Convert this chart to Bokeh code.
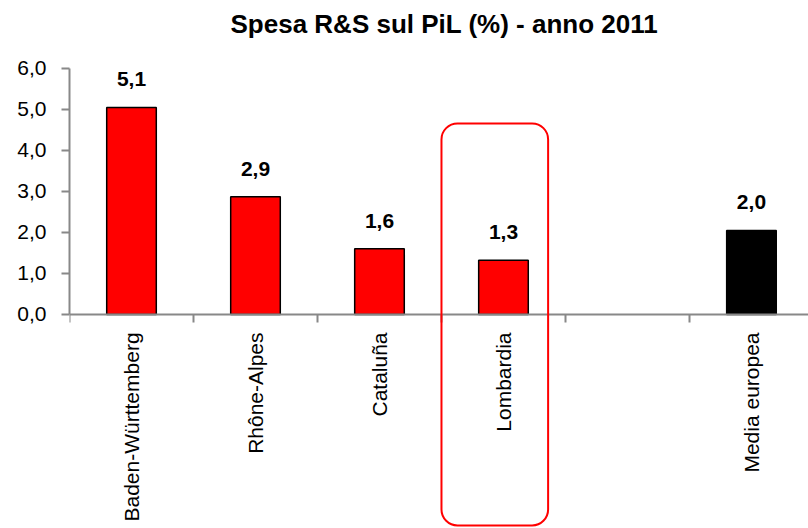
import math
from bokeh.plotting import figure
from bokeh.models import Range1d, FixedTicker, ColumnDataSource, BoxAnnotation, Title
from bokeh.core.properties import value
from bokeh.embed import file_html
from bokeh.resources import INLINE

# ---- data ----
categories = ["Baden-Württemberg", "Rhône-Alpes", "Cataluña", "Lombardia", "", "Media europea"]
values = [5.05, 2.87, 1.60, 1.32, None, 2.05]
value_labels = ["5,1", "2,9", "1,6", "1,3", "", "2,0"]
bar_colors = ["#FF0000", "#FF0000", "#FF0000", "#FF0000", None, "#000000"]
y_ticks = [0, 1, 2, 3, 4, 5, 6]
y_tick_labels = ["0,0", "1,0", "2,0", "3,0", "4,0", "5,0", "6,0"]
chart_title = "Spesa R&S sul PiL (%) - anno 2011"
highlight = "Lombardia"

FONT = "Liberation Sans"
AXIS_GRAY = "#888888"

idx = [i for i, v in enumerate(values) if v is not None]
src = ColumnDataSource(dict(
    x=[i + 0.5 for i in idx],
    top=[values[i] for i in idx],
    color=[bar_colors[i] for i in idx],
    label=[value_labels[i] for i in idx],
))

# frame reaches the bottom of the canvas so the highlight box can extend below the axis;
# the category axis is pinned at y = 0, the value axis is bounded to 0..6
p = figure(width=808, height=528, output_backend="svg", toolbar_location=None,
           x_range=Range1d(0, 5.96), y_range=Range1d(-5.221, 6.487),
           min_border_left=69, min_border_right=0, min_border_top=47, min_border_bottom=0)
p.title = None
p.add_layout(Title(text=chart_title, align="left", text_font=FONT, text_font_size="26px",
                   text_font_style="bold", text_color="#000000", offset=161, standoff=16,
                   vertical_align="top"), "above")

p.outline_line_color = None
p.xgrid.visible = False
p.ygrid.visible = False
p.background_fill_color = "white"
p.border_fill_color = "white"

p.vbar(x="x", top="top", bottom=0, width=0.4, source=src, fill_color="color",
       line_color="#000000", line_width=1.5)
p.text(x="x", y="top", text="label", source=src, text_align="center",
       text_baseline="alphabetic", y_offset=-28, text_font=value(FONT),
       text_font_size="21px", text_font_style="bold", text_color="#000000")

# x axis: labels at category centres, tick marks at boundaries
xa = p.xaxis[0]
xa.fixed_location = 0
xa.ticker = FixedTicker(ticks=[i + 0.5 for i in range(len(categories))],
                        minor_ticks=list(range(len(categories) + 1)))
xa.major_label_overrides = {i + 0.5: (c if c else " ") for i, c in enumerate(categories)}
xa.major_label_orientation = math.pi / 2
xa.major_tick_line_color = None
xa.major_tick_out = 0
xa.major_tick_in = 0
xa.minor_tick_out = 8
xa.minor_tick_in = 0
xa.minor_tick_line_color = AXIS_GRAY
xa.minor_tick_line_width = 2
xa.axis_line_color = AXIS_GRAY
xa.axis_line_width = 2
xa.major_label_standoff = 10
xa.major_label_text_font = FONT
xa.major_label_text_font_size = "21px"
xa.major_label_text_color = "#000000"

ya = p.yaxis[0]
ya.bounds = (0, 6)
ya.ticker = FixedTicker(ticks=y_ticks, minor_ticks=[])
ya.major_label_overrides = {t: l for t, l in zip(y_ticks, y_tick_labels)}
ya.major_tick_out = 8
ya.major_tick_in = 0
ya.major_tick_line_color = AXIS_GRAY
ya.major_tick_line_width = 2
ya.axis_line_color = AXIS_GRAY
ya.axis_line_width = 2
ya.major_label_standoff = 15
ya.major_label_text_font = FONT
ya.major_label_text_font_size = "21px"
ya.major_label_text_color = "#000000"

hi = categories.index(highlight)
box = BoxAnnotation(left=hi + 0.0, right=hi + 0.86, top=4.66, bottom=-5.148,
                    fill_color=None, fill_alpha=0, line_color="#FF0000",
                    line_alpha=1.0, line_width=2, border_radius=16, level="overlay")
p.add_layout(box)

open("out.html", "w").write(file_html(p, INLINE))
